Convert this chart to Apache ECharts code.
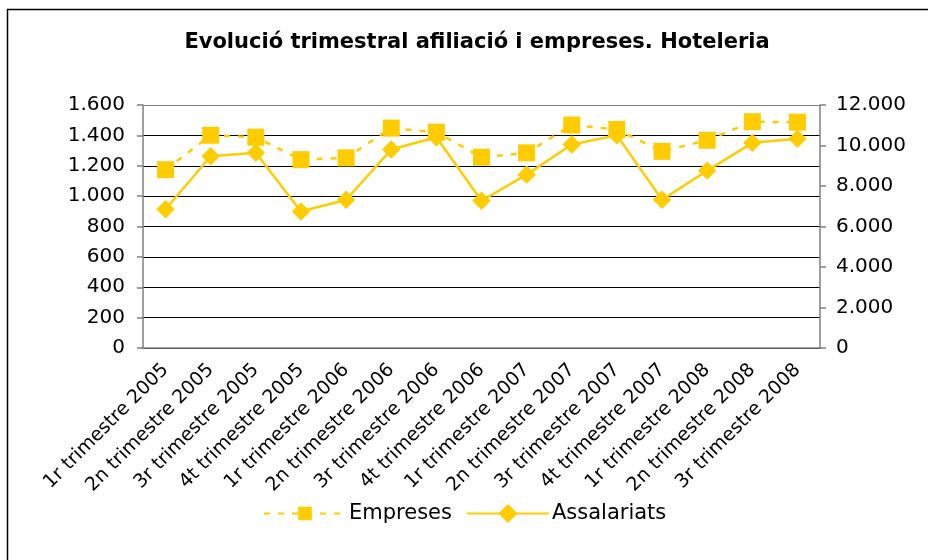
<!DOCTYPE html>
<html>
<head>
<meta charset="utf-8">
<script src="https://cdn.jsdelivr.net/npm/echarts@6/dist/echarts.min.js"></script>
<style>
  html, body { margin: 0; padding: 0; background: #fff; }
  #chart { width: 928px; height: 560px; }
</style>
</head>
<body>
<div id="chart"></div>
<script>
var quarters = [
  '1r trimestre 2005', '2n trimestre 2005', '3r trimestre 2005', '4t trimestre 2005',
  '1r trimestre 2006', '2n trimestre 2006', '3r trimestre 2006', '4t trimestre 2006',
  '1r trimestre 2007', '2n trimestre 2007', '3r trimestre 2007', '4t trimestre 2007',
  '1r trimestre 2008', '2n trimestre 2008', '3r trimestre 2008'
];
// Empreses (eix esquerre)
var empreses = [1174, 1401, 1388, 1240, 1252, 1448, 1421, 1256, 1285, 1468, 1439, 1295, 1368, 1490, 1487];
// Assalariats (eix dret)
var assalariats = [6850, 9470, 9640, 6740, 7320, 9800, 10410, 7270, 8560, 10050, 10500, 7320, 8760, 10130, 10330];

var yellow = '#FFCC00';
var font = 'DejaVu Sans, Verdana, sans-serif';

function thousands(v) {
  return String(v).replace(/\B(?=(\d{3})+(?!\d))/g, '.');
}

var chart = echarts.init(document.getElementById('chart'));

chart.setOption({
  animation: false,
  backgroundColor: '#fff',
  textStyle: { fontFamily: font },
  graphic: [{
    // the category labels are cut off above the legend, as in the original
    type: 'rect',
    z: 3,
    shape: { x: 9, y: 492, width: 930, height: 80 },
    style: { fill: '#fff' },
    silent: true
  }, {
    type: 'rect',
    z: 5,
    shape: { x: 7.5, y: 9.5, width: 960, height: 600 },
    style: { fill: 'none', stroke: '#000', lineWidth: 1.5 },
    silent: true
  }],
  title: {
    text: 'Evolució trimestral afiliació i empreses. Hoteleria',
    left: 472,
    textAlign: 'center',
    top: 27,
    textStyle: { fontFamily: font, fontSize: 21, fontWeight: 'bold', color: '#000' }
  },
  legend: {
    left: 258,
    top: 498,
    z: 6,
    itemWidth: 82,
    itemHeight: 17,
    itemGap: 14,
    textStyle: { fontFamily: font, fontSize: 21, color: '#000', padding: [0, 0, 0, -2] },
    data: ['Empreses', 'Assalariats']
  },
  grid: { left: 143, right: 108, top: 105, bottom: 212 },
  xAxis: {
    type: 'category',
    data: quarters,
    boundaryGap: true,
    axisLine: { lineStyle: { color: '#808080', width: 1.5 } },
    axisTick: { length: 6, lineStyle: { color: '#808080', width: 1.5 } },
    axisLabel: {
      rotate: 45,
      interval: 0,
      margin: 19,
      fontFamily: font,
      fontSize: 19,
      color: '#000'
    }
  },
  yAxis: [{
    type: 'value',
    min: 0,
    max: 1600,
    interval: 200,
    axisLine: { show: true, lineStyle: { color: '#808080', width: 1.5 } },
    axisTick: { show: true, length: 6, lineStyle: { color: '#808080', width: 1.5 } },
    axisLabel: { margin: 18, fontFamily: font, fontSize: 20, color: '#000', formatter: thousands },
    splitLine: {
      lineStyle: {
        color: ['#000', '#000', '#000', '#000', '#000', '#000', '#000', '#000', '#808080'],
        width: 1.2
      }
    }
  }, {
    type: 'value',
    min: 0,
    max: 12000,
    interval: 2000,
    position: 'right',
    axisLine: { show: true, lineStyle: { color: '#808080', width: 1.5 } },
    axisTick: { show: true, length: 6, lineStyle: { color: '#808080', width: 1.5 } },
    axisLabel: { margin: 16, fontFamily: font, fontSize: 20, color: '#000', formatter: thousands },
    splitLine: { show: false }
  }],
  series: [{
    name: 'Empreses',
    type: 'line',
    yAxisIndex: 0,
    data: empreses,
    symbol: 'rect',
    symbolSize: 17,
    color: yellow,
    itemStyle: { color: yellow },
    lineStyle: { color: yellow, width: 2.5, type: [6, 8] }
  }, {
    name: 'Assalariats',
    type: 'line',
    yAxisIndex: 1,
    data: assalariats,
    symbol: 'rect',
    symbolRotate: 45,
    symbolSize: 13,
    color: yellow,
    itemStyle: { color: yellow },
    lineStyle: { color: yellow, width: 2.5 }
  }]
});
</script>
</body>
</html>
